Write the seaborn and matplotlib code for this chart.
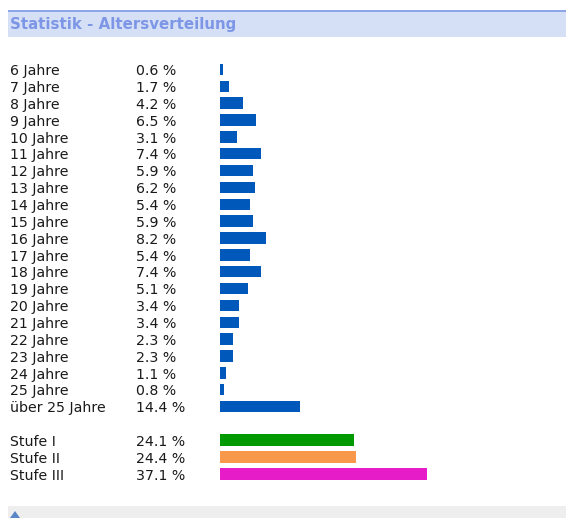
import matplotlib
matplotlib.use("Agg")
import matplotlib.pyplot as plt
import seaborn as sns
import pandas as pd
from matplotlib.patches import Rectangle, Polygon

sns.set_style("white")
plt.rcParams['font.family'] = ['DejaVu Sans']

age_labels = ["6 Jahre", "7 Jahre", "8 Jahre", "9 Jahre", "10 Jahre", "11 Jahre",
              "12 Jahre", "13 Jahre", "14 Jahre", "15 Jahre", "16 Jahre", "17 Jahre",
              "18 Jahre", "19 Jahre", "20 Jahre", "21 Jahre", "22 Jahre", "23 Jahre",
              "24 Jahre", "25 Jahre", "über 25 Jahre"]
age_values = [0.6, 1.7, 4.2, 6.5, 3.1, 7.4, 5.9, 6.2, 5.4, 5.9, 8.2, 5.4,
              7.4, 5.1, 3.4, 3.4, 2.3, 2.3, 1.1, 0.8, 14.4]
level_labels = ["Stufe I", "Stufe II", "Stufe III"]
level_values = [24.1, 24.4, 37.1]

blue = "#0058bb"
level_colors = ["#009a00", "#f7984a", "#e51cc8"]

labels = age_labels + level_labels
values = age_values + level_values
order = age_labels + [" "] + level_labels
palette = {l: blue for l in age_labels}
palette.update(dict(zip(level_labels, level_colors)))

df = pd.DataFrame({"label": labels, "value": values})

W, H = 566, 518
fig = plt.figure(figsize=(W / 100, H / 100), dpi=100)
ax = fig.add_axes([0, 0, 1, 1])

sns.barplot(data=df, x="value", y="label", hue="label", order=order,
            palette=palette, orient="h", width=0.68, legend=False, ax=ax,
            saturation=1, linewidth=0)

px_per_pct = 5.57
x0 = 220
row0 = 69.5
row_h = 16.85
ax.set_xlim(-x0 / px_per_pct, (W - x0) / px_per_pct)
ax.set_ylim((H - row0) / row_h, -row0 / row_h)
ax.axis("off")

txt_col = "#1a1a1a"
fs = 10.2
label_x = (10 - x0) / px_per_pct
pct_x = (136 - x0) / px_per_pct
lookup = dict(zip(labels, values))
for i, cat in enumerate(order):
    if cat.strip() == "":
        continue
    v = lookup[cat]
    ax.text(label_x, i + 0.34, cat, ha="left", va="baseline", fontsize=fs, color=txt_col)
    ax.text(pct_x, i + 0.34, f"{v:.1f} %", ha="left", va="baseline", fontsize=fs, color=txt_col)

# header band
fig.patches.append(Rectangle((8 / W, 1 - 37 / H), 1, 27 / H, transform=fig.transFigure,
                             facecolor="#d5dff6", edgecolor="none", zorder=0))
fig.patches.append(Rectangle((8 / W, 1 - 11.5 / H), 1, 1.5 / H, transform=fig.transFigure,
                             facecolor="#8aa6e6", edgecolor="none", zorder=0))
fig.text(10 / W, 1 - 24.5 / H, "Statistik - Altersverteilung", ha="left", va="center",
         fontsize=10.8, fontweight="bold", color="#7d97e6")

# footer band
fig.patches.append(Rectangle((8 / W, 0), 1, 12 / H, transform=fig.transFigure,
                             facecolor="#eeeeee", edgecolor="none", zorder=0))
fig.patches.append(Polygon([(10 / W, 1 - 518 / H), (15 / W, 1 - 511 / H), (20 / W, 1 - 518 / H)],
                           closed=True, transform=fig.transFigure,
                           facecolor="#5a86c8", edgecolor="none", zorder=1))

fig.savefig("out.png", dpi=100)
